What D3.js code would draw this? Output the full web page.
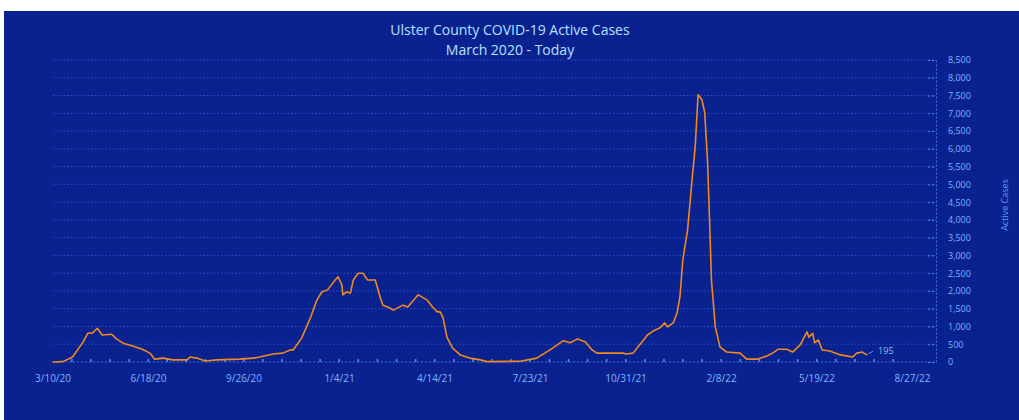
<!DOCTYPE html>
<meta charset="utf-8">
<style>
    html, body { margin: 0; padding: 0; background: #ffffff; }
    text { font-family: "Open Sans", "Noto Sans", sans-serif; }
</style>
<script src="https://d3js.org/d3.v7.min.js"></script>
<div id="chart"></div>
<script>
    // dates and active case counts
    const dates = ["2020-03-10","2020-03-21","2020-03-31","2020-04-11","2020-04-16","2020-04-21","2020-04-26",
      "2020-05-01","2020-05-11","2020-05-16","2020-05-23","2020-06-02","2020-06-12","2020-06-20","2020-06-25",
      "2020-07-04","2020-07-14","2020-07-29","2020-08-01","2020-08-08","2020-08-17","2020-08-29","2020-09-22",
      "2020-10-06","2020-10-13","2020-10-27","2020-11-06","2020-11-14","2020-11-17","2020-11-26","2020-12-05",
      "2020-12-12","2020-12-17","2020-12-23","2020-12-31","2021-01-03","2021-01-07","2021-01-08","2021-01-12",
      "2021-01-16","2021-01-19","2021-01-24","2021-01-29","2021-02-03","2021-02-11","2021-02-16","2021-02-19",
      "2021-02-24","2021-03-02","2021-03-12","2021-03-17","2021-03-28","2021-04-06","2021-04-12","2021-04-17",
      "2021-04-20","2021-04-23","2021-04-27","2021-05-03","2021-05-11","2021-05-21","2021-06-01","2021-06-08",
      "2021-07-13","2021-07-30","2021-08-13","2021-08-27","2021-09-03","2021-09-11","2021-09-19","2021-09-26",
      "2021-10-01","2021-10-15","2021-10-28","2021-11-01","2021-11-08","2021-11-12","2021-11-23","2021-11-29",
      "2021-12-06","2021-12-11","2021-12-14","2021-12-20","2021-12-24","2021-12-27","2021-12-30","2022-01-04",
      "2022-01-09","2022-01-12","2022-01-15","2022-01-19","2022-01-22","2022-01-25","2022-01-27","2022-01-29",
      "2022-02-02","2022-02-07","2022-02-14","2022-02-28","2022-03-07","2022-03-18","2022-03-28","2022-04-03",
      "2022-04-09","2022-04-18","2022-04-24","2022-05-02","2022-05-09","2022-05-11","2022-05-15","2022-05-17",
      "2022-05-21","2022-05-25","2022-06-02","2022-06-13","2022-06-26","2022-06-30","2022-07-06","2022-07-11"];
    const cases = [0,10,140,560,810,820,950,
      760,780,650,530,450,360,250,80,
      110,60,60,140,110,30,60,80,
      110,140,225,250,340,340,680,1240,
      1750,1970,2030,2310,2400,2170,1890,1970,
      1940,2310,2500,2500,2310,2310,1830,1600,
      1550,1460,1600,1550,1890,1750,1550,1410,
      1410,1240,700,390,200,110,60,10,
      20,110,340,600,540,650,560,340,
      250,250,250,225,250,390,760,870,
      960,1100,990,1100,1380,1830,2870,3720,
      5210,6060,7520,7380,7010,5600,4000,2310,
      990,420,280,250,80,80,170,250,
      360,360,280,480,850,700,810,540,
      620,340,310,200,140,250,280,195];
    const xTicks = ["2020-03-10","2020-06-18","2020-09-26","2021-01-04","2021-04-14","2021-07-23",
      "2021-10-31","2022-02-08","2022-05-19","2022-08-27"];
    const yTicks = d3.range(0, 8501, 500);
    const lastLabel = "195";

    const parse = d3.timeParse("%Y-%m-%d");
    const data = dates.map((d, i) => ({date: parse(d), value: cases[i]}));

    const W = 1019, H = 420;
    const svg = d3.select("#chart").append("svg")
        .attr("width", W).attr("height", H);

    // blue panel
    svg.append("rect").attr("x", 4).attr("y", 11).attr("width", W - 4).attr("height", H - 11)
        .attr("fill", "#0a2190");

    const x = d3.scaleTime()
        .domain([parse(xTicks[0]), parse(xTicks[xTicks.length - 1])])
        .range([52.5, 912]);
    const y = d3.scaleLinear().domain([0, 8500]).range([362, 60]);
    const plotRight = 936;

    // grid lines
    svg.append("g").selectAll("line")
      .data(yTicks.slice(1))
      .join("line")
        .attr("x1", 53).attr("x2", plotRight)
        .attr("y1", d => y(d)).attr("y2", d => y(d))
        .attr("stroke", "#3a78e6").attr("stroke-width", 1)
        .attr("stroke-dasharray", "1.5,2").attr("opacity", 0.6);

    // right axis
    const yAxis = svg.append("g")
        .attr("transform", `translate(${plotRight},0)`)
        .call(d3.axisRight(y).tickValues(yTicks).tickFormat(d3.format(",")).tickSize(0).tickPadding(12));
    yAxis.select(".domain").attr("stroke", "#4a86ee").attr("stroke-dasharray", "2,2").attr("opacity", 0.8);
    yAxis.selectAll("text").attr("fill", "#7fb6ff").attr("font-size", 9);
    yAxis.selectAll(".tick").append("line")
        .attr("x1", -8).attr("x2", 0).attr("stroke", "#4a86ee").attr("stroke-dasharray", "2,2");

    // bottom axis
    const xAxis = svg.append("g")
        .attr("transform", "translate(0,362)")
        .call(d3.axisBottom(x).tickValues(xTicks.map(parse))
          .tickFormat(d3.timeFormat("%-m/%-d/%y")).tickSize(0).tickPadding(13));
    xAxis.select(".domain").attr("stroke", "#4a86ee").attr("stroke-dasharray", "2,2").attr("opacity", 0.8)
        .attr("d", `M${53},0H${plotRight}`);
    xAxis.selectAll("text").attr("fill", "#7fb6ff").attr("font-size", 10);

    // minor tick dots every 20 days
    const minorTicks = d3.timeDay.range(parse(xTicks[0]), parse(xTicks[xTicks.length - 1]), 20).slice(1);
    svg.append("g").selectAll("rect")
      .data(minorTicks)
      .join("rect")
        .attr("x", d => x(d) - 0.5).attr("y", 359).attr("width", 1.5).attr("height", 3)
        .attr("fill", "#4f8ff2");

    // the line
    svg.append("path")
        .datum(data)
        .attr("fill", "none")
        .attr("stroke", "#f08a1c")
        .attr("stroke-width", 1.6)
        .attr("stroke-linejoin", "round")
        .attr("d", d3.line().x(d => x(d.date)).y(d => y(d.value)));

    // last value label
    const last = data[data.length - 1];
    svg.append("line")
        .attr("x1", x(last.date) + 1).attr("y1", y(last.value) - 1)
        .attr("x2", x(last.date) + 6).attr("y2", y(last.value) - 4)
        .attr("stroke", "#7fb6ff").attr("stroke-width", 0.8);
    svg.append("text")
        .attr("x", x(last.date) + 11).attr("y", y(last.value) - 1)
        .attr("fill", "#8cc0ff").attr("font-size", 9)
        .text(lastLabel);

    // titles
    svg.append("text").attr("x", 510).attr("y", 35).attr("text-anchor", "middle")
        .attr("fill", "#b4e2ff").attr("font-size", 14).text("Ulster County COVID-19 Active Cases");
    svg.append("text").attr("x", 510).attr("y", 55).attr("text-anchor", "middle")
        .attr("fill", "#b4e2ff").attr("font-size", 14).text("March 2020 - Today");

    svg.append("text")
        .attr("transform", "translate(1008,205) rotate(-90)")
        .attr("text-anchor", "middle")
        .attr("fill", "#5f9cf0").attr("font-size", 9)
        .text("Active Cases");
</script>
